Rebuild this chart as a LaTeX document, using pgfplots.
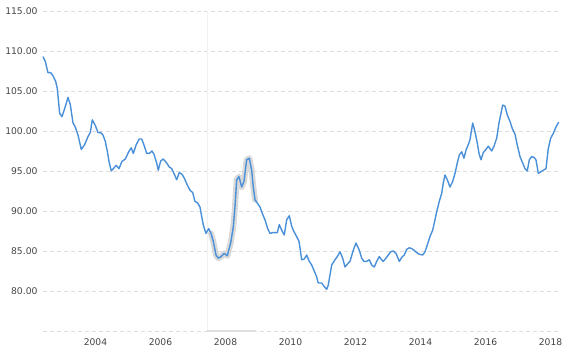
\documentclass[border=0pt]{standalone}
\usepackage{pgfplots}
\pgfplotsset{compat=1.18}
\usepackage{fontspec}
\setmainfont{DejaVu Sans}
\definecolor{linec}{RGB}{74,144,217}
\definecolor{gridc}{RGB}{221,221,221}
\definecolor{lab}{RGB}{68,68,68}
\begin{document}
\begin{tikzpicture}
\begin{axis}[
  at={(43pt,30pt)}, anchor=south west,
  scale only axis, width=516pt, height=320pt,
  xmin=2002.385, xmax=2018.262, ymin=75, ymax=115,
  axis line style={draw=none},
  major tick length=0pt,
  xtick={2004,2006,...,2018},
  ytick={80,85,...,115},
  extra y ticks={75}, extra y tick labels={},
  ymajorgrids,
  grid style={gridc, dash pattern=on 4pt off 3pt, line width=0.8pt},
  extra y tick style={grid=major},
  tick label style={font=\fontsize{9.2}{11}\selectfont, text=lab},
  /pgf/number format/assume math mode=true,
  xticklabel style={/pgf/number format/1000 sep={}, yshift=-4pt},
  yticklabel style={/pgf/number format/fixed, /pgf/number format/fixed zerofill, /pgf/number format/precision=2, xshift=-2pt},
  clip=false,
]
\draw[gray!12, line width=0.8pt] (axis cs:2007.43,75) -- (axis cs:2007.43,115);
\fill[gray!25] (axis cs:2007.43,75.15) rectangle (axis cs:2008.94,74.9);
\addplot[gray!30, line width=6pt, line join=round, line cap=round] coordinates {
(2007.554,87.2) (2007.625,86.2) (2007.708,84.5) (2007.778,84.1) (2007.862,84.3)
(2007.963,84.7) (2008.055,84.4) (2008.160,86.0) (2008.240,88.0) (2008.292,90.5)
(2008.345,93.9) (2008.415,94.3) (2008.498,93.0) (2008.569,93.7) (2008.652,96.4)
(2008.732,96.6) (2008.806,95.1) (2008.855,93.0) (2008.908,91.4)
};
\addplot[linec, line width=1.4pt, line join=round] coordinates {
(2002.385,109.3) (2002.455,108.7) (2002.538,107.3) (2002.622,107.3) (2002.692,106.9)
(2002.775,106.2) (2002.825,105.3) (2002.898,102.2) (2002.969,101.8) (2003.052,102.8)
(2003.154,104.2) (2003.225,103.3) (2003.308,101.0) (2003.378,100.5) (2003.462,99.5)
(2003.563,97.7) (2003.668,98.3) (2003.769,99.3) (2003.840,99.8) (2003.902,101.4)
(2003.994,100.7) (2004.077,99.8) (2004.160,99.8) (2004.231,99.5) (2004.302,98.7)
(2004.363,97.5) (2004.415,96.2) (2004.486,95.0) (2004.569,95.4) (2004.640,95.7)
(2004.723,95.3) (2004.815,96.2) (2004.917,96.5) (2005.022,97.4) (2005.102,97.9)
(2005.163,97.2) (2005.255,98.3) (2005.348,99.0) (2005.422,99.0) (2005.492,98.25)
(2005.575,97.2) (2005.655,97.2) (2005.738,97.5) (2005.800,97.1) (2005.883,96.0)
(2005.932,95.1) (2006.006,96.25) (2006.086,96.5) (2006.191,96.0) (2006.271,95.5)
(2006.345,95.3) (2006.415,94.7) (2006.498,93.9) (2006.578,94.8) (2006.662,94.6)
(2006.732,94.1) (2006.825,93.25) (2006.908,92.6) (2006.991,92.3) (2007.062,91.2)
(2007.145,91.0) (2007.215,90.5) (2007.268,89.3) (2007.317,88.25) (2007.400,87.2)
(2007.483,87.8) (2007.554,87.2) (2007.625,86.2) (2007.708,84.5) (2007.778,84.1)
(2007.862,84.3) (2007.963,84.7) (2008.055,84.4) (2008.160,86.0) (2008.240,88.0)
(2008.292,90.5) (2008.345,93.9) (2008.415,94.3) (2008.498,93.0) (2008.569,93.7)
(2008.652,96.4) (2008.732,96.6) (2008.806,95.1) (2008.855,93.0) (2008.908,91.4)
(2008.978,91.0) (2009.062,90.5) (2009.132,89.7) (2009.215,88.9) (2009.298,87.8)
(2009.369,87.2) (2009.452,87.3) (2009.523,87.3) (2009.594,87.3) (2009.655,88.3)
(2009.729,87.6) (2009.809,87.0) (2009.883,88.9) (2009.963,89.4) (2010.037,88.1)
(2010.108,87.4) (2010.191,86.8) (2010.262,86.2) (2010.345,83.9) (2010.425,84.0)
(2010.498,84.5) (2010.578,83.7) (2010.652,83.25) (2010.720,82.6) (2010.794,81.9)
(2010.855,81.0) (2010.960,81.0) (2011.031,80.6) (2011.114,80.2) (2011.163,80.75)
(2011.268,83.25) (2011.369,83.9) (2011.440,84.3) (2011.523,84.9) (2011.606,84.1)
(2011.677,83.0) (2011.760,83.4) (2011.831,83.7) (2011.932,85.1) (2012.015,86.0)
(2012.117,85.1) (2012.191,84.1) (2012.262,83.7) (2012.345,83.7) (2012.425,83.9)
(2012.498,83.25) (2012.578,83.0) (2012.652,83.7) (2012.732,84.3) (2012.785,84.0)
(2012.855,83.7) (2012.938,84.1) (2013.009,84.5) (2013.083,84.9) (2013.163,85.0)
(2013.246,84.7) (2013.298,84.2) (2013.348,83.7) (2013.422,84.2) (2013.502,84.5)
(2013.575,85.2) (2013.655,85.4) (2013.729,85.3) (2013.800,85.1) (2013.883,84.8)
(2013.963,84.6) (2014.068,84.5) (2014.138,84.9) (2014.209,85.75) (2014.292,86.8)
(2014.375,87.6) (2014.446,88.9) (2014.498,89.9) (2014.578,91.2) (2014.652,92.2)
(2014.702,93.5) (2014.754,94.5) (2014.825,93.9) (2014.908,93.0) (2014.991,93.7)
(2015.062,94.7) (2015.132,96.0) (2015.194,97.0) (2015.268,97.4) (2015.338,96.6)
(2015.400,97.6) (2015.471,98.3) (2015.523,98.9) (2015.606,101.0) (2015.677,99.9)
(2015.748,98.5) (2015.800,97.2) (2015.862,96.4) (2015.932,97.3) (2016.015,97.7)
(2016.086,98.1) (2016.191,97.5) (2016.262,98.1) (2016.345,99.1) (2016.415,101.0)
(2016.477,102.2) (2016.529,103.25) (2016.600,103.1) (2016.671,102.0) (2016.754,101.2)
(2016.825,100.3) (2016.908,99.6) (2016.978,98.25) (2017.062,96.8) (2017.145,96.0)
(2017.215,95.3) (2017.286,95.0) (2017.348,96.4) (2017.422,96.8) (2017.492,96.7)
(2017.554,96.4) (2017.625,94.7) (2017.698,94.9) (2017.778,95.1) (2017.862,95.3)
(2017.932,97.8) (2018.006,99.1) (2018.086,99.7) (2018.169,100.5) (2018.252,101.1)
};
\end{axis}
\pgfresetboundingbox
\path[use as bounding box] (0,0) rectangle (584pt,361pt);
\end{tikzpicture}
\end{document}
